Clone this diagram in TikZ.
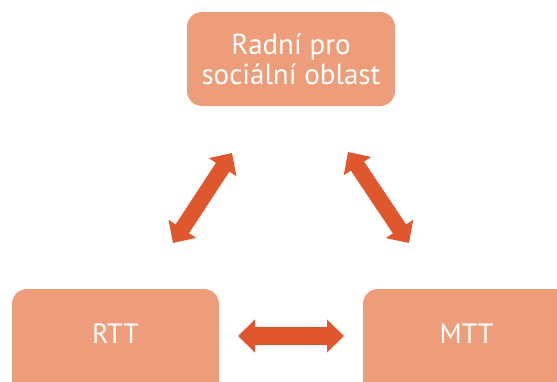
\documentclass[tikz,border=0pt]{standalone}
\usepackage{fontspec}
\setmainfont{PT Sans}
\usetikzlibrary{arrows.meta}
\definecolor{boxfill}{HTML}{EE9D7A}
\definecolor{arrowcol}{HTML}{E0572D}
\tikzset{
  role/.style={fill=boxfill, rounded corners=15pt, text=white, align=center,
    font=\fontsize{29}{30}\selectfont},
  link/.style={draw=arrowcol, line width=16pt,
    {Triangle[length=17pt,width=32pt]}-{Triangle[length=17pt,width=32pt]}}
}
\begin{document}
\begin{tikzpicture}[x=1pt,y=-1pt]
\useasboundingbox (0,0) rectangle (557,381);
\clip (0,0) rectangle (557,381);
\fill[white] (0,0) rectangle (557,381);
% boxes
\node[role, minimum width=208pt, minimum height=94pt] (top) at (291,59) {Radní pro\\sociální oblast};
\node[role, minimum width=207pt, minimum height=110pt] (rtt) at (115.5,344) {};
\node[role, minimum width=207pt, minimum height=110pt] (mtt) at (466.5,344) {};
\node[text=white, font=\fontsize{28}{30}\selectfont] (rttl) at (115.5,334) {RTT};
\node[text=white, font=\fontsize{28}{30}\selectfont] (mttl) at (466.5,334) {MTT};
% arrow endpoints
\coordinate (l1) at (232,153);
\coordinate (l2) at (173,243);
\coordinate (r1) at (348,152);
\coordinate (r2) at (409,243);
\coordinate (h1) at (238,336);
\coordinate (h2) at (344,336);
\draw[link] (l1) -- (l2);
\draw[link] (r1) -- (r2);
\draw[link, line width=18pt] (h1) -- (h2);
\end{tikzpicture}
\end{document}
